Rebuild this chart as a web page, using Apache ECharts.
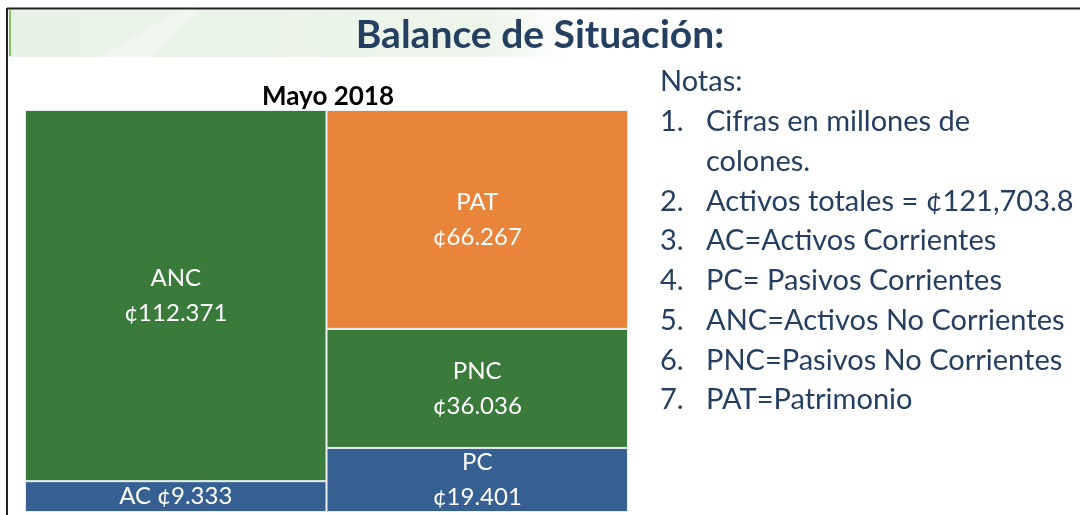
<!DOCTYPE html>
<html>
<head>
<meta charset="utf-8">
<script src="https://cdn.jsdelivr.net/npm/echarts@6/dist/echarts.min.js"></script>
<style>
  html, body { margin: 0; padding: 0; background: #fff; }
  #chart { width: 1080px; height: 515px; }
</style>
</head>
<body>
<div id="chart"></div>
<script>
// balance sheet, May 2018 (millions of colones)
const columns = ["Activos", "Pasivos y Patrimonio"];
const currentNames = ["AC", "PC"];
const currentValues = [9333, 19401];
const nonCurrentNames = ["ANC", "PNC"];
const nonCurrentValues = [112371, 36036];
const equityNames = [null, "PAT"];
const equityValues = [null, 66267];

const notes = [
  ["1.", "Cifras en millones de"],
  ["", "colones."],
  ["2.", "Activos totales = ¢121,703.8"],
  ["3.", "AC=Activos Corrientes"],
  ["4.", "PC= Pasivos Corrientes"],
  ["5.", "ANC=Activos No Corrientes"],
  ["6.", "PNC=Pasivos No Corrientes"],
  ["7.", "PAT=Patrimonio"]
];

const FONT = "Lato";
const NAVY = "#243f60";
const total = currentValues[0] + nonCurrentValues[0];

const fmt = v => "¢" + String(v).replace(/\B(?=(\d{3})+(?!\d))/g, ".");

const chart = echarts.init(document.getElementById("chart"));

function blockLabel(names, oneLine) {
  return {
    show: true,
    position: "inside",
    color: "#fff",
    fontFamily: FONT,
    fontSize: 24,
    lineHeight: 35,
    formatter: p => {
      const n = names[p.dataIndex];
      if (!n) return "";
      return oneLine && oneLine[p.dataIndex] ? n + " " + fmt(p.value) : n + "\n" + fmt(p.value);
    }
  };
}

const barStyle = color => ({ color: color, borderColor: "#e8eef0", borderWidth: 1 });

// notes text on the right
const noteFont = "29px " + FONT;
const noteGraphics = [
  { type: "text", x: 660, y: 82, style: { text: "Notas:", fill: NAVY, font: noteFont, verticalAlign: "middle" } }
];
notes.forEach((n, i) => {
  const y = 122 + i * 39.7;
  if (n[0]) noteGraphics.push({ type: "text", x: 660, y: y, style: { text: n[0], fill: NAVY, font: noteFont, verticalAlign: "middle" } });
  noteGraphics.push({ type: "text", x: 706, y: y, style: { text: n[1], fill: NAVY, font: noteFont, verticalAlign: "middle" } });
});

const option = {
  animation: false,
  title: [
    {
      text: "Balance de Situación:",
      left: "center",
      top: 11,
      textStyle: { fontFamily: FONT, fontSize: 39, fontWeight: "bold", color: NAVY }
    }
  ],
  graphic: [
    {
      type: "rect",
      z: -10,
      shape: { x: 9, y: 10, width: 560, height: 47 },
      style: {
        fill: new echarts.graphic.LinearGradient(0, 0, 1, 0, [
          { offset: 0, color: "#e8f2e6" },
          { offset: 0.85, color: "#edf5eb" },
          { offset: 1, color: "#ffffff" }
        ])
      }
    },
    {
      type: "polygon",
      z: -9,
      shape: { points: [[100, 57], [150, 57], [200, 10], [180, 10]] },
      style: { fill: "rgba(255,255,255,0.35)" }
    },
    { type: "rect", shape: { x: 9, y: 10, width: 2, height: 46 }, style: { fill: "#86c06e" } },
    { type: "line", shape: { x1: 7, y1: 8.5, x2: 1080, y2: 8.5 }, style: { stroke: "#222", lineWidth: 2 } },
    { type: "line", shape: { x1: 7, y1: 8, x2: 7, y2: 515 }, style: { stroke: "#222", lineWidth: 2 } },
    {
      type: "text",
      x: 328,
      y: 97,
      style: { text: "Mayo 2018", fill: "#000", font: "bold 26px " + FONT, align: "center", verticalAlign: "middle" }
    }
  ].concat(noteGraphics),
  grid: { left: 25, top: 110, width: 603, height: 402 },
  xAxis: { type: "category", data: columns, show: false },
  yAxis: { type: "value", min: 0, max: total, show: false },
  series: [
    {
      type: "bar",
      stack: "b",
      barCategoryGap: "0%",
      barWidth: "100%",
      data: currentValues,
      itemStyle: barStyle("#376092"),
      label: blockLabel(currentNames, [true, false])
    },
    {
      type: "bar",
      stack: "b",
      barWidth: "100%",
      data: nonCurrentValues,
      itemStyle: barStyle("#3a7b3c"),
      label: blockLabel(nonCurrentNames)
    },
    {
      type: "bar",
      stack: "b",
      barWidth: "100%",
      data: equityValues,
      itemStyle: barStyle("#e9843b"),
      label: blockLabel(equityNames)
    }
  ]
};

chart.setOption(option);
</script>
</body>
</html>
